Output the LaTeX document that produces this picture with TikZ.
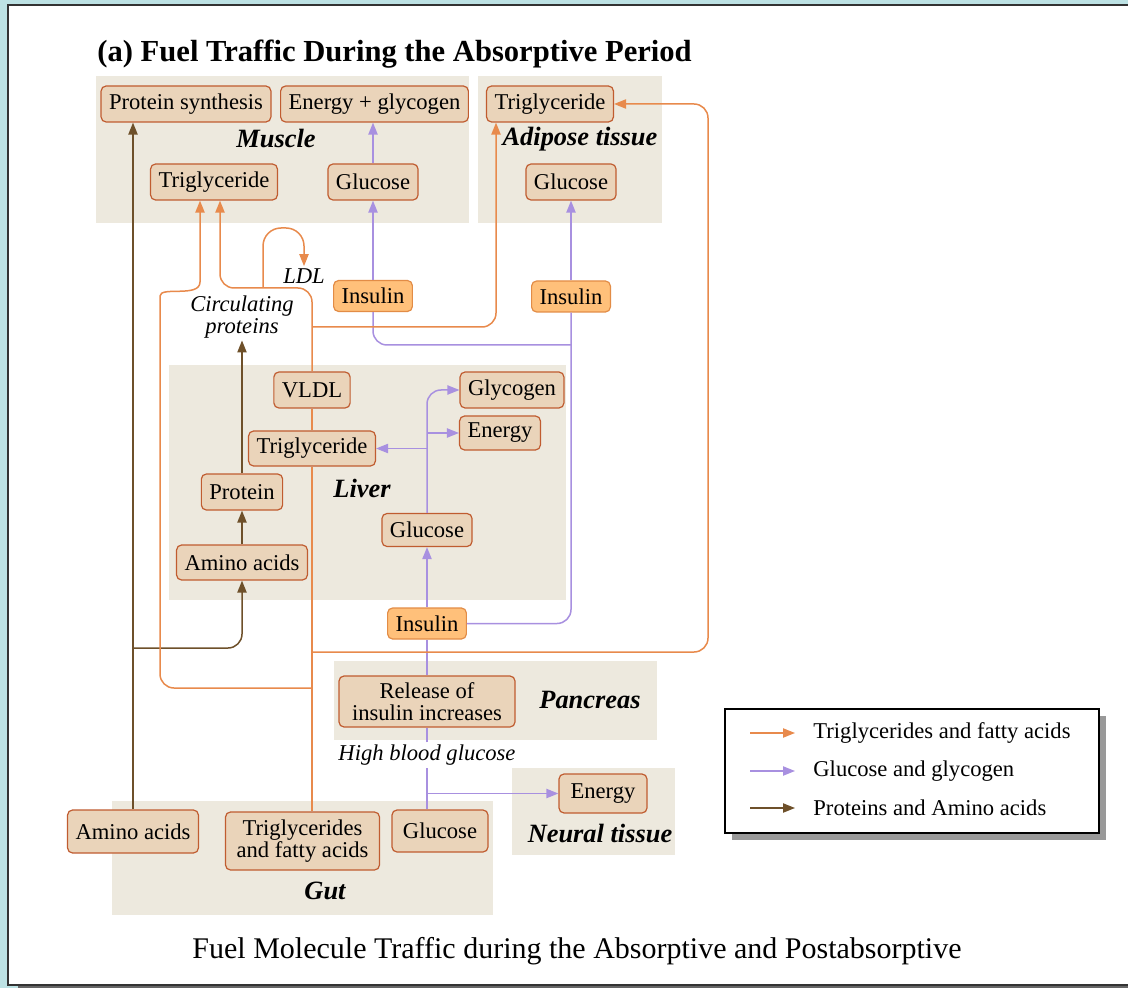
\documentclass[tikz,border=0pt]{standalone}
\usepackage{fontspec}
\setmainfont{Liberation Serif}
\usetikzlibrary{arrows.meta}

\definecolor{bgblue}{RGB}{189,226,228}
\definecolor{zonefill}{RGB}{237,233,222}
\definecolor{boxfill}{RGB}{234,212,186}
\definecolor{boxline}{RGB}{192,92,48}
\definecolor{insfill}{RGB}{255,192,122}
\definecolor{insline}{RGB}{226,140,70}
\definecolor{orgline}{RGB}{232,138,76}
\definecolor{purline}{RGB}{168,144,224}
\definecolor{brnline}{RGB}{110,80,42}

\tikzset{
  box/.style={draw=boxline,fill=boxfill,rounded corners=2.5pt,line width=0.6pt,
    inner xsep=4pt,inner ysep=1pt,minimum height=18pt,align=center,
    font=\fontsize{11.3}{10.8}\selectfont},
  insbox/.style={box,draw=insline,fill=insfill,minimum height=15.5pt},
  zonelabel/.style={font=\fontsize{13.2}{15}\selectfont\bfseries\itshape},
  note/.style={font=\fontsize{11.3}{10.8}\selectfont\itshape,align=center,inner sep=1pt},
  legtext/.style={font=\fontsize{11.3}{13}\selectfont,anchor=west,inner sep=3pt},
  org/.style={draw=orgline,line width=0.75pt},
  pur/.style={draw=purline,line width=0.75pt},
  brn/.style={draw=brnline,line width=0.75pt},
  >={Triangle[length=6pt,width=4.6pt]}
}

\begin{document}
\begin{tikzpicture}[x=0.5pt,y=-0.5pt]
\useasboundingbox (0,0) rectangle (1128,988);
\fill[bgblue] (0,0) rectangle (1128,988);
\fill[black!60] (18,10) rectangle (1140,989);
\filldraw[fill=white,draw=black!80,line width=1pt] (8,5) rectangle (1140,985);

\fill[zonefill] (96,76) rectangle (469,223);
\fill[zonefill] (478,76) rectangle (662,223);
\fill[zonefill] (169,365) rectangle (566,600);
\fill[zonefill] (334,661) rectangle (657,740);
\fill[zonefill] (512,768) rectangle (675,855);
\fill[zonefill] (112,801) rectangle (493,915);

\node[font=\fontsize{15.3}{18}\selectfont\bfseries,anchor=base west,inner sep=0] (title) at (97,62) {(a) Fuel Traffic During the Absorptive Period};

\node[box] (ps) at (186,104) {Protein synthesis};
\node[box] (eg) at (374.5,104) {Energy + glycogen};
\node[zonelabel] (muscle) at (276,139) {Muscle};
\node[box] (mtg) at (214,182) {Triglyceride};
\node[box] (mglu) at (373,182) {Glucose};

\node[box] (atg) at (550,104) {Triglyceride};
\node[zonelabel] (adipose) at (580,139) {Adipose tissue};
\node[box] (aglu) at (571,182) {Glucose};

\node[insbox] (mins) at (373,296) {Insulin};
\node[insbox] (ains) at (571,296.5) {Insulin};
\node[note] (ldl) at (304,276) {LDL};
\node[note] (circ) at (242,317) {Circulating\\proteins};

\node[box] (vldl) at (312,390) {VLDL};
\node[box] (lglyc) at (512,390) {Glycogen};
\node[box,minimum height=17pt] (len) at (500,433) {Energy};
\node[box,minimum height=17.5pt] (ltg) at (312,448.5) {Triglyceride};
\node[box] (lprot) at (242,492) {Protein};
\node[zonelabel] (liver) at (362,488) {Liver};
\node[box,minimum height=16.5pt] (lglu) at (427,530) {Glucose};
\node[box,minimum height=17.5pt] (laa) at (242,562.5) {Amino acids};

\node[insbox] (pins) at (427,623.5) {Insulin};
\node[box,minimum height=25.5pt,minimum width=88pt] (rel) at (427,701.5) {Release of\\insulin increases};
\node[zonelabel] (pancreas) at (590,700) {Pancreas};
\node[note,fill=white] (hbg) at (427,755) {High blood glucose};

\node[box,minimum height=19.5pt,minimum width=44pt] (nen) at (603,793.5) {Energy};
\node[zonelabel] (neural) at (600,833) {Neural tissue};

\node[box,minimum height=21.5pt] (gaa) at (133,831.5) {Amino acids};
\node[box,minimum height=29pt,minimum width=77pt] (gtg) at (302.5,841) {Triglycerides\\and fatty acids};
\node[box,minimum height=21pt,minimum width=48pt] (gglu) at (440,831) {Glucose};
\node[zonelabel] (gut) at (325,891) {Gut};

\draw[brn,->] (gaa.north) -- (gaa.north |- ps.south);
\coordinate (bsplit) at (133,648);
\draw[brn,->,rounded corners=7pt] (bsplit) -| (laa.south);
\draw[brn,->] (laa.north) -- (lprot.south);
\draw[brn,->] (lprot.north) -- (circ.south);

\draw[pur] (gglu.north -| hbg.south) -- (hbg.south);
\coordinate (gsplit) at (hbg.south |- nen.west);
\draw[pur,->] (gsplit) -- (nen.west);
\draw[pur] (hbg.north) -- (rel.south);
\draw[pur] (rel.north) -- (pins.south);
\draw[pur,->] (pins.north) -- (lglu.south);
\draw[pur,->,rounded corners=7pt] (lglu.north) |- (lglyc.west);
\draw[pur,->] (lglu.north |- len.west) -- (len.west);
\draw[pur,->] (lglu.north |- ltg.east) -- (ltg.east);
\draw[pur,rounded corners=7pt] (pins.east) -| (ains.south);
\draw[pur,->] (ains.north) -- (aglu.south);
\coordinate (psplit) at (ains.south |- 0,345);
\draw[pur,rounded corners=7pt] (psplit) -| (mins.south);
\draw[pur,->] (mins.north) -- (mglu.south);
\draw[pur,->] (mglu.north) -- (mglu.north |- eg.south);

\draw[org] (gtg.north -| ltg.south) -- (ltg.south);
\draw[org] (ltg.north) -- (vldl.south);
\coordinate (ttop) at (220,288);
\draw[org,->,rounded corners=7pt] (vldl.north) |- (ttop) -- (ttop |- mtg.south);
\coordinate (ldlfoot) at (263,288);
\draw[org,->,rounded corners=9pt] (ldlfoot) |- (ldl.north |- 0,228) -- (ldl.north);
\coordinate (asplit) at (ltg.north |- 0,327);
\draw[org,->,rounded corners=7pt] (asplit) -| (atg.south -| 496,0);
\coordinate (rsplit) at (ltg.south |- 0,652);
\draw[org,->,rounded corners=7pt] (rsplit) -| (atg.east -| 708,0) -- (atg.east);
\coordinate (lsplit) at (ltg.south |- 0,688);
\draw[org,->,rounded corners=7pt] (lsplit) -| (160,310) .. controls (160,286) and (200,298) .. (200,268) -- (mtg.south -| 200,0);

\fill[black!40] (732,716) rectangle (1106,840);
\draw[fill=white,line width=0.6pt] (725,709) rectangle (1099,833);
\node[legtext] (lg1) at (807,733) {Triglycerides and fatty acids};
\node[legtext] (lg2) at (807,771) {Glucose and glycogen};
\node[legtext] (lg3) at (807,808) {Proteins and Amino acids};
\coordinate (la1) at (750,733); \coordinate (lb1) at (795,733);
\coordinate (la2) at (750,771); \coordinate (lb2) at (795,771);
\coordinate (la3) at (750,808); \coordinate (lb3) at (795,808);
\draw[org,->] (la1) -- (lb1);
\draw[pur,->] (la2) -- (lb2);
\draw[brn,->] (la3) -- (lb3);

\node[font=\fontsize{15}{18}\selectfont,anchor=base,inner sep=0] (caption) at (577,958) {Fuel Molecule Traffic during the Absorptive and Postabsorptive};
\end{tikzpicture}
\end{document}
